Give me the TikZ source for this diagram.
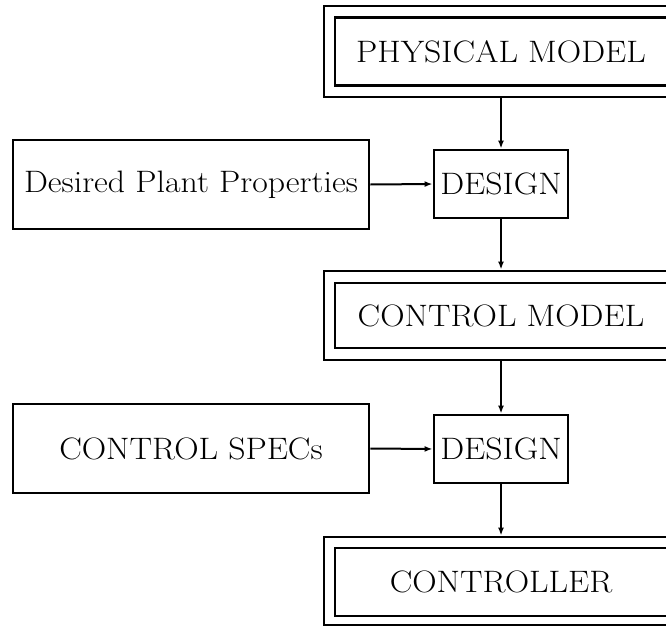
\documentclass[tikz,border=0pt]{standalone}
\usetikzlibrary{arrows.meta}
\newcommand{\widetxt}[1]{\scalebox{1.09}[1]{#1}}
\begin{document}
\begin{tikzpicture}[x=1pt,y=1pt,
  box/.style={draw,line width=2.9pt,inner sep=0pt,font=\fontsize{31}{36}\selectfont},
  outerbox/.style={draw,line width=2.9pt,inner sep=0pt},
  conn/.style={line width=2pt,-{Latex[length=8pt,width=6pt]}}]
\useasboundingbox (0,0) rectangle (666,-626);
\clip (0,0) rectangle (666,-626);
% physical model
\node[outerbox,minimum width=354pt,minimum height=91pt] (physo) at (501,-51.5) {};
\node[box,minimum width=332pt,minimum height=68pt] (phys) at (501,-51.5) {\widetxt{PHYSICAL MODEL}};
% design 1
\node[box,minimum width=134pt,minimum height=68pt] (d1) at (501,-184) {\widetxt{DESIGN}};
\node[box,minimum width=356pt,minimum height=89pt] (des) at (191,-184.5) {\widetxt{Desired Plant Properties}};
% control model
\node[outerbox,minimum width=354pt,minimum height=89pt] (cmo) at (501,-315.5) {};
\node[box,minimum width=332pt,minimum height=65pt] (cm) at (501,-315.5) {\widetxt{CONTROL MODEL}};
% design 2
\node[box,minimum width=134pt,minimum height=68pt] (d2) at (501,-449) {\widetxt{DESIGN}};
\node[box,minimum width=356pt,minimum height=89pt] (spec) at (191,-448.5) {\widetxt{CONTROL SPECs}};
% controller
\node[outerbox,minimum width=354pt,minimum height=88pt] (cto) at (501,-581) {};
\node[box,minimum width=332pt,minimum height=68pt] (ct) at (501,-582) {\widetxt{CONTROLLER}};
% connectors
\draw[conn] (physo.south) -- (d1.north);
\draw[conn] (des.east) -- (d1.west);
\draw[conn] (d1.south) -- (cmo.north);
\draw[conn] (cmo.south) -- (d2.north);
\draw[conn] (spec.east) -- (d2.west);
\draw[conn] (d2.south) -- (cto.north);
\end{tikzpicture}
\end{document}
